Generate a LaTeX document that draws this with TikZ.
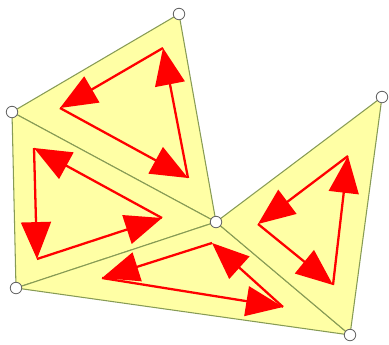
\documentclass[tikz,border=0pt]{standalone}
\usetikzlibrary{arrows.meta}
\definecolor{facefill}{RGB}{255,255,165}
\definecolor{edgecol}{RGB}{135,155,85}
\tikzset{
  vert/.style={circle,draw=gray!80!black,fill=white,inner sep=0pt,minimum size=2.3mm,line width=0.5pt},
  face/.style={fill=facefill,draw=edgecol,line width=0.6pt,line join=round},
  cyc/.style={draw=red,line width=1.3pt,-{Triangle[length=21pt,width=17pt]}}
}
\begin{document}
\begin{tikzpicture}[x=0.02cm,y=-0.02cm]
  \useasboundingbox (0,0) rectangle (389,345);
  % mesh vertices
  \coordinate (T) at (179,14);
  \coordinate (L) at (12,112);
  \coordinate (C) at (216,222);
  \coordinate (B) at (16,288);
  \coordinate (R) at (382,97);
  \coordinate (S) at (350,335);

  \draw[face] (L) -- (T) -- (C) -- cycle;
  \draw[face] (L) -- (C) -- (B) -- cycle;
  \draw[face] (B) -- (C) -- (S) -- cycle;
  \draw[face] (C) -- (R) -- (S) -- cycle;

  % orientation of each face
  \coordinate (t1) at (163,48);
  \coordinate (t2) at (60,108);
  \coordinate (t3) at (188,178);
  \draw[cyc] (t1) -- (t2);
  \draw[cyc] (t2) -- (t3);
  \draw[cyc] (t3) -- (t1);

  \coordinate (l1) at (34,148);
  \coordinate (l2) at (37,259);
  \coordinate (l3) at (162,218);
  \draw[cyc] (l1) -- (l2);
  \draw[cyc] (l2) -- (l3);
  \draw[cyc] (l3) -- (l1);

  \coordinate (b1) at (212,243);
  \coordinate (b2) at (102,278);
  \coordinate (b3) at (283,307);
  \draw[cyc] (b1) -- (b2);
  \draw[cyc] (b2) -- (b3);
  \draw[cyc] (b3) -- (b1);

  \coordinate (r1) at (348,156);
  \coordinate (r2) at (258,224);
  \coordinate (r3) at (333,285);
  \draw[cyc] (r1) -- (r2);
  \draw[cyc] (r2) -- (r3);
  \draw[cyc] (r3) -- (r1);

  \node[vert] (vT) at (T) {};
  \node[vert] (vL) at (L) {};
  \node[vert] (vC) at (C) {};
  \node[vert] (vB) at (B) {};
  \node[vert] (vR) at (R) {};
  \node[vert] (vS) at (S) {};
\end{tikzpicture}
\end{document}
